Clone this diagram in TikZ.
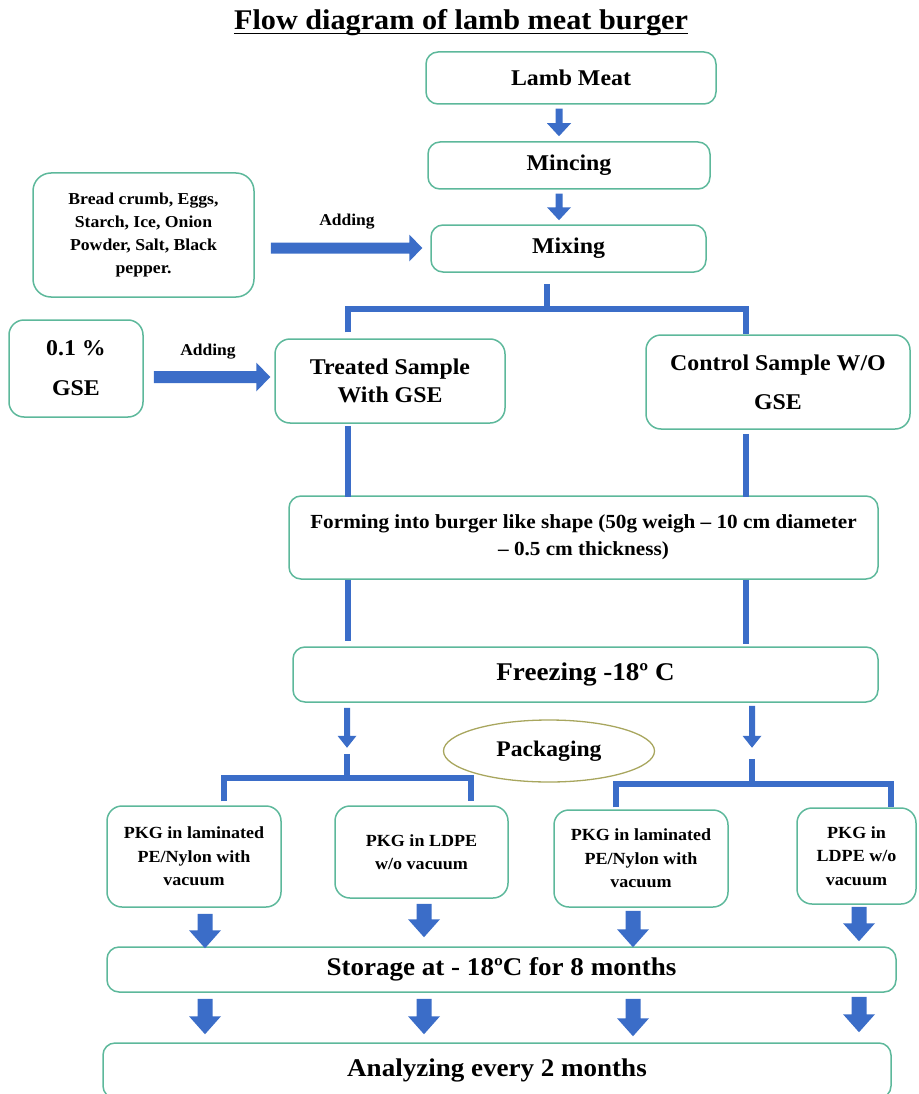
\documentclass[tikz,border=0pt]{standalone}
\usepackage{fontspec}
\setmainfont{Liberation Serif}[FakeStretch=1.06]
\usetikzlibrary{calc,shapes.geometric}
\definecolor{ablue}{HTML}{3B6DC8}
\definecolor{bgreen}{HTML}{5DB89B}
\definecolor{ellolive}{HTML}{A8A65E}
\newcommand\fsz[2]{\fontsize{#1}{#2}\selectfont\bfseries}
% vertical block arrow: from, to, shaft half width, head half width, head length
\newcommand\darrow[5]{%
  \fill[ablue] let \p1=(#1), \p2=(#2) in
    (\x1-#3pt,\y1) -- (\x1-#3pt,\y2+#5pt) -- (\x1-#4pt,\y2+#5pt) -- (\x1,\y2)
    -- (\x1+#4pt,\y2+#5pt) -- (\x1+#3pt,\y2+#5pt) -- (\x1+#3pt,\y1) -- cycle;}
% horizontal block arrow
\newcommand\rarrow[5]{%
  \fill[ablue] let \p1=(#1), \p2=(#2) in
    (\x1,\y1+#3pt) -- (\x2-#5pt,\y1+#3pt) -- (\x2-#5pt,\y1+#4pt) -- (\x2,\y1)
    -- (\x2-#5pt,\y1-#4pt) -- (\x2-#5pt,\y1-#3pt) -- (\x1,\y1-#3pt) -- cycle;}
\tikzset{
  box/.style={draw=bgreen, line width=1.5pt, rounded corners=12pt, align=center, inner sep=0pt},
  bline/.style={draw=ablue, line width=6pt, line join=miter, line cap=butt},
}
\begin{document}
\begin{tikzpicture}[x=1pt,y=-1pt]
\useasboundingbox (0,0) rectangle (918,1094);

% title
\node[anchor=base, inner sep=0pt, font=\fsz{28.5}{34}] (title) at (461,30) {Flow diagram of lamb meat burger};
\draw[line width=1.5pt] ($(title.base west)+(0,3.5)$) -- ($(title.base east)+(0,3.5)$);

% boxes
\node[box, minimum width=290pt, minimum height=52pt, font=\fsz{22.5}{26}] (lamb) at (571,78) {Lamb Meat};
\node[box, minimum width=282pt, minimum height=47pt, font=\fsz{22.5}{26}] (mincing) at (569,165.5) {Mincing};
\node[box, minimum width=275pt, minimum height=47pt, font=\fsz{22.5}{26}] (mixing) at (568.5,248.5) {Mixing};
\node[box, rounded corners=18pt, minimum width=221pt, minimum height=124pt, font=\fsz{16.7}{23}] (ingr) at (143.5,235)
  {Bread crumb, Eggs,\\Starch, Ice, Onion\\Powder, Salt, Black\\pepper.};
\node[box, rounded corners=15pt, minimum width=134pt, minimum height=97pt, font=\fsz{22.5}{40}] (gse) at (76,368.5) {0.1 \%\\GSE};
\node[box, rounded corners=15pt, minimum width=230pt, minimum height=84pt, font=\fsz{22.5}{28}] (treated) at (390,381) {Treated Sample\\With GSE};
\node[box, rounded corners=15pt, minimum width=264pt, minimum height=94pt, font=\fsz{22.5}{39}] (control) at (778,382) {Control Sample W/O\\GSE};
\node[box, minimum width=589pt, minimum height=83pt, font=\fsz{20}{27}] (forming) at (583.5,537.5)
  {Forming into burger like shape (50g weigh – 10 cm diameter\\– 0.5 cm thickness)};
\node[box, minimum width=585pt, minimum height=55pt, font=\fsz{25.5}{30}] (freezing) at (585.5,674.5) {Freezing -18º C};
\node[ellipse, draw=ellolive, line width=1.3pt, minimum width=211pt, minimum height=62pt, inner sep=0pt, font=\fsz{22.3}{26}] (pack) at (549,751) {Packaging};
\node[box, rounded corners=15pt, minimum width=174pt, minimum height=101pt, font=\fsz{17}{23.5}] (pkg1) at (194,856.5) {PKG in laminated\\PE/Nylon with\\vacuum};
\node[box, rounded corners=15pt, minimum width=173pt, minimum height=92pt, font=\fsz{17}{23.5}] (pkg2) at (421.5,852) {PKG in LDPE\\w/o vacuum};
\node[box, rounded corners=15pt, minimum width=174pt, minimum height=97pt, font=\fsz{17}{23.5}] (pkg3) at (641,858.5) {PKG in laminated\\PE/Nylon with\\vacuum};
\node[box, rounded corners=15pt, minimum width=119pt, minimum height=96pt, font=\fsz{17}{23.5}] (pkg4) at (856.5,856) {PKG in\\LDPE w/o\\vacuum};
\node[box, minimum width=789pt, minimum height=45pt, font=\fsz{25.5}{30}] (storage) at (501.5,969.5) {Storage at - 18ºC for 8 months};
\node[box, minimum width=788pt, minimum height=55pt, font=\fsz{25.5}{30}] (analyzing) at (497,1070.5) {Analyzing every 2 months};

% labels
\node[inner sep=0pt, font=\fsz{16.5}{20}] (add1) at (347,222) {Adding};
\node[inner sep=0pt, font=\fsz{16.5}{20}] (add2) at (208,352) {Adding};

% small arrows top
\darrow{$(lamb.south)+(-12,4)$}{$(mincing.north)+(0,-5)$}{3.5}{12}{13}
\darrow{$(mincing.south)+(-10,4)$}{$(mixing.north)+(0,-4)$}{3.5}{12}{13}

% horizontal arrows
\rarrow{$(ingr.east)+(16,13)$}{$(mixing.west)+(-8,0)$}{5.5}{13.5}{13}
\rarrow{$(gse.east)+(10,8.5)$}{$(treated.west)+(-4,0)$}{6}{14.5}{14}

% top bracket
\draw[bline] ($(mixing.south)+(-21.5,11)$) -- ++(0,25) coordinate (tb);
\draw[bline] ($(treated.north)+(-42,-6)$) |- (tb) -| ($(control.north)+(-32,0)$);

% vertical lines
\draw[bline] ($(treated.south)+(-42,2)$) -- ($(forming.north)+(-235.5,2)$);
\draw[bline] ($(control.south)+(-32,4)$) -- ($(forming.north)+(162.5,2)$);
\draw[bline] ($(forming.south)+(-235.5,0)$) -- ($(freezing.north)+(-237.5,-5)$);
\draw[bline] ($(forming.south)+(162.5,0)$) -- ($(freezing.north)+(160.5,-2)$);

% arrows below freezing
\darrow{$(freezing.south)+(-238.5,5)$}{$(freezing.south)+(0,45)$}{3}{9.5}{12}
\darrow{$(freezing.south)+(166.5,3)$}{$(freezing.south)+(0,45)$}{3}{9.5}{12}

% packaging brackets
\draw[bline] ($(freezing.south)+(-238.5,51)$) -- ++(0,24) coordinate (lb);
\draw[bline] ($(pkg1.north)+(30,-4)$) |- (lb) -| ($(pkg2.north)+(49.5,-4)$);
\draw[bline] ($(freezing.south)+(166.5,56)$) -- ++(0,25) coordinate (rb);
\draw[bline] ($(pkg3.north)+(-25,-2)$) |- (rb) -| ($(pkg4.north)+(34.5,0)$);

% block arrows to storage
\darrow{$(pkg1.south)+(11,6)$}{$(storage.north)+(0,2)$}{7.5}{16}{18}
\darrow{$(pkg2.south)+(2.5,5)$}{$(storage.north)+(0,-9)$}{7.5}{16}{18}
\darrow{$(pkg3.south)+(-8,3)$}{$(storage.north)+(0,1)$}{7.5}{16}{18}
\darrow{$(pkg4.south)+(2.5,2)$}{$(storage.north)+(0,-5)$}{7.5}{16}{18}

% block arrows to analyzing
\darrow{$(storage.south)+(-296.5,6)$}{$(analyzing.north)+(0,-8)$}{7.5}{16}{18}
\darrow{$(storage.south)+(-77.5,6)$}{$(analyzing.north)+(0,-8)$}{7.5}{16}{18}
\darrow{$(storage.south)+(131.5,6)$}{$(analyzing.north)+(0,-6)$}{7.5}{16}{18}
\darrow{$(storage.south)+(357.5,4)$}{$(analyzing.north)+(0,-10)$}{7.5}{16}{18}
\end{tikzpicture}
\end{document}
